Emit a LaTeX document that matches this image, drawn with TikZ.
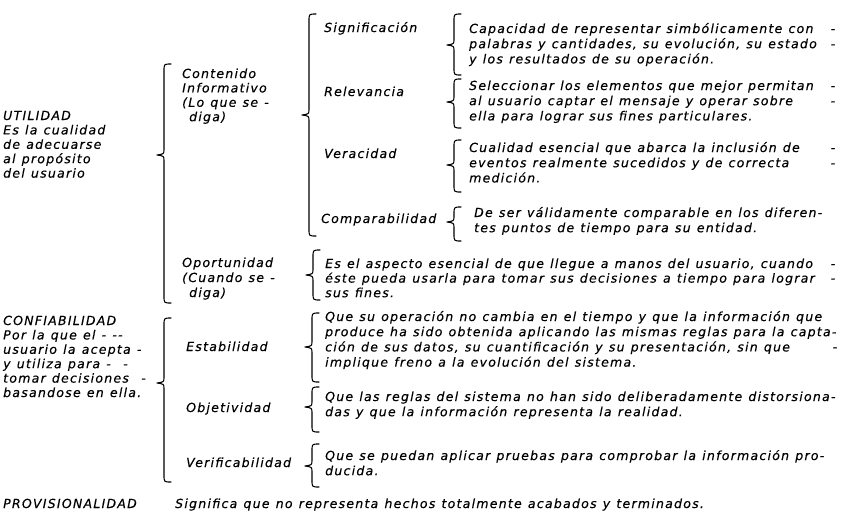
\documentclass[tikz,border=0pt]{standalone}
\usepackage{fontspec}
\newfontfamily\rf{DejaVu Sans}[LetterSpace=10,FakeBold=0.3]
\tikzset{
  txt/.style={font=\rf\itshape\fontsize{12.5}{15.2}\selectfont, inner sep=0pt, anchor=base west, align=left},
  lbl/.style={font=\rf\itshape\fontsize{12.5}{14.4}\selectfont, inner sep=0pt, anchor=base west, align=left},
  brc/.style={line width=1.1pt, line cap=round, line join=round},
}
\newcommand\Ln[1]{\mbox{\spaceskip=6.2pt\relax #1}}
\newcommand\Dl[1]{\makebox[\linewidth][l]{\spaceskip=6.2pt\relax #1\hfill-}}
\newcommand\cbr[4]{%
  \draw[brc] ({#1+14},#2) .. controls ({#1+7},#2) .. ({#1+7},{#2+7}) -- ({#1+7},{#3-6}) .. controls ({#1+7},{#3-1}) .. (#1,#3) .. controls ({#1+7},{#3+1}) .. ({#1+7},{#3+6}) -- ({#1+7},{#4-7}) .. controls ({#1+7},#4) .. ({#1+14},#4);}
\begin{document}
\begin{tikzpicture}[x=1pt,y=-1pt]
\fill[white] (0,0) rectangle (843,515);
\useasboundingbox (0,0) rectangle (843,515);

% left column
\node[lbl, text width=150pt] (util) at (3,120) {UTILIDAD\\\Ln{Es la cualidad}\\\Ln{de adecuarse}\\\Ln{al propósito}\\\Ln{del usuario}};
\node[lbl, text width=150pt] (conf) at (3,325) {CONFIABILIDAD\\\Ln{Por la que el - --}\\\Ln{usuario la acepta -}\\\Ln{y utiliza para - \ -}\\\Ln{tomar decisiones \ -}\\\Ln{basandose en ella.}};
\node[lbl] (prov) at (3,508) {PROVISIONALIDAD};

% second column
\node[lbl, text width=110pt] (cont) at (182,78) {Contenido\\Informativo\\\Ln{(Lo que se -}\\\hspace*{7pt}diga)};
\node[lbl, text width=110pt] (oport) at (182,267) {Oportunidad\\[0.6pt]\Ln{(Cuando se -}\\[0.6pt]\hspace*{7pt}diga)};
\node[lbl] (estab) at (186,351) {Estabilidad};
\node[lbl] (objet) at (186,412) {Objetividad};
\node[lbl] (verif) at (186,467) {Verificabilidad};

% third column
\node[lbl] (sig) at (324,32) {Significación};
\node[lbl] (rel) at (324,96) {Relevancia};
\node[lbl] (ver) at (324,158) {Veracidad};
\node[lbl] (comp) at (321,223) {Comparabilidad};

% descriptions
\node[txt, text width=366pt] (dsig) at (469,33) {\Dl{Capacidad de representar simbólicamente con}\\\Dl{palabras y cantidades, su evolución, su estado}\\\Ln{y los resultados de su operación.}};
\node[txt, text width=366pt] (drel) at (469,90) {\Dl{Seleccionar los elementos que mejor permitan}\\\Dl{al usuario captar el mensaje y operar sobre}\\\Ln{ella para lograr sus fines particulares.}};
\node[txt, text width=366pt] (dver) at (469,152) {\Dl{Cualidad esencial que abarca la inclusión de}\\\Dl{eventos realmente sucedidos y de correcta}\\\Ln{medición.}};
\node[txt, text width=360pt] (dcomp) at (474,217) {\Ln{De ser válidamente comparable en los diferen-}\\\Ln{tes puntos de tiempo para su entidad.}};
\node[txt, text width=510pt, font=\rf\itshape\fontsize{12.5}{14.6}\selectfont] (doport) at (325,268) {\Dl{Es el aspecto esencial de que llegue a manos del usuario, cuando}\\\Dl{éste pueda usarla para tomar sus decisiones a tiempo para lograr}\\\Ln{sus fines.}};
\node[txt, text width=512pt] (destab) at (325,321) {\Ln{Que su operación no cambia en el tiempo y que la información que}\\\Ln{produce ha sido obtenida aplicando las mismas reglas para la capta-}\\\Dl{ción de sus datos, su cuantificación y su presentación, sin que}\\\Ln{implique freno a la evolución del sistema.}};
\node[txt, text width=512pt] (dobjet) at (325,401) {\Ln{Que las reglas del sistema no han sido deliberadamente distorsiona-}\\\Ln{das y que la información representa la realidad.}};
\node[txt, text width=512pt] (dverif) at (325,460) {\Ln{Que se puedan aplicar pruebas para comprobar la información pro-}\\\Ln{ducida.}};
\node[txt] (dprov) at (175,508) {\Ln{Significa que no representa hechos totalmente acabados y terminados.}};

% braces
\cbr{157}{64}{155}{303}
\cbr{302}{14}{115}{236}
\cbr{447}{14}{45}{75}
\cbr{447}{79}{102}{128}
\cbr{447}{140}{165}{192}
\cbr{447}{207}{222}{241}
\cbr{306}{250}{275}{300}
\cbr{157}{318}{383}{482}
\cbr{305}{313}{347}{382}
\cbr{305}{387}{407}{432}
\cbr{305}{444}{466}{487}
\end{tikzpicture}
\end{document}
